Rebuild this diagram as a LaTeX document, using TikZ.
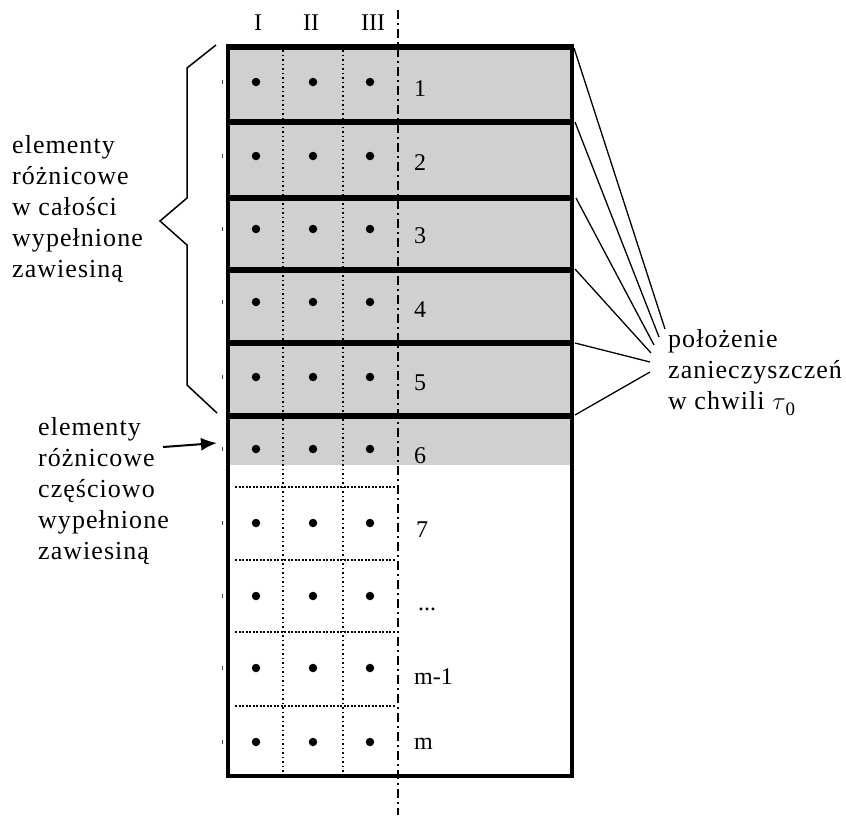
\documentclass[tikz,border=0pt]{standalone}
\usepackage{fontspec}
\setmainfont{Liberation Serif}
\newfontfamily\wideserif[LetterSpace=4]{Liberation Serif}
\usetikzlibrary{arrows.meta}
\definecolor{fillgray}{RGB}{208,208,208}
\begin{document}
\begin{tikzpicture}[x=1pt,y=-1pt,
  blocksep/.style={line width=6pt},
  outerbox/.style={line width=4pt},
  colline/.style={line width=1.5pt,dash pattern=on 1.5pt off 3pt},
  rowline/.style={line width=1.3pt,dash pattern=on 2pt off 1.5pt},
  axisline/.style={line width=1.8pt,dash pattern=on 9pt off 4pt on 2pt off 4pt},
  dotmark/.style={circle,fill=black,inner sep=0pt,minimum size=8.5pt},
  rowlabel/.style={anchor=base west,inner sep=0pt,font=\fontsize{24}{28}\selectfont},
  collabel/.style={anchor=base,inner sep=0pt,font=\fontsize{24}{28}\selectfont},
  sidetext/.style={anchor=north west,inner sep=0pt,align=left,font=\wideserif\fontsize{26}{31}\selectfont},
  leader/.style={line width=1.3pt},
  bracket/.style={line width=1.5pt}]
\useasboundingbox (0,0) rectangle (846,815);

% gray filled blocks
\fill[fillgray] (228,47) rectangle (572,465);

% column dotted lines
\draw[colline] (283,50) -- (283,772);
\draw[colline] (343,50) -- (343,772);

% row dotted lines in the lower part
\foreach \yy in {487,560,632,706} {
  \draw[rowline] (235,\yy) -- (396,\yy);
}

% dash-dot axis
\draw[axisline] (398,10) -- (398,815);

% outer box and block separators
\draw[outerbox] (228,47) rectangle (572,776);
\foreach \yy in {47,122,198,270,343,416} {
  \draw[blocksep] (226,\yy) -- (574,\yy);
}

% dots and left ticks
\foreach \yy [count=\r] in {82,156,229,302,377,449,523,596,668,742} {
  \foreach \xx [count=\c] in {256,313,370} {
    \node[dotmark] (d\r\c) at (\xx,\yy) {};
  }
  \draw[line width=1pt,black!70] (222,\yy-2) -- (222,\yy+2);
}

% column labels
\node[collabel] (cI) at (258,30) {I};
\node[collabel] (cII) at (311,30) {II};
\node[collabel] (cIII) at (373,30) {III};

% row labels
\node[rowlabel] (r1) at (414,96) {1};
\node[rowlabel] (r2) at (414,170) {2};
\node[rowlabel] (r3) at (414,243) {3};
\node[rowlabel] (r4) at (414,317) {4};
\node[rowlabel] (r5) at (414,390) {5};
\node[rowlabel] (r6) at (414,463) {6};
\node[rowlabel] (r7) at (416,537) {7};
\node[rowlabel] (r8) at (418,610) {...};
\node[rowlabel] (r9) at (414,684) {m-1};
\node[rowlabel] (r10) at (414,749) {m};

% side texts
\node[sidetext] (full) at (12,135) {elementy\\różnicowe\\w całości\\wypełnione\\zawiesiną};
\node[sidetext] (part) at (38,417) {elementy\\różnicowe\\częściowo\\wypełnione\\zawiesiną};
\node[sidetext] (pos) at (668,329) {położenie\\zanieczyszczeń\\w chwili $\tau$\raisebox{-6pt}{\normalfont\fontsize{19}{20}\selectfont 0}};

% bracket
\draw[bracket] (216,45) -- (187,68) -- (187,198) -- (160,221) -- (187,245) -- (187,385) -- (217,413);

% arrow to block 6
\coordinate (arrS) at (163,447);
\coordinate (arrE) at (217,443);
\draw[line width=2pt,-{Latex[length=16pt,width=13pt]}] (arrS) -- (arrE);

% leaders from blocks to the label
\coordinate (b1) at (574,48);
\coordinate (b2) at (575,122);
\coordinate (b3) at (576,198);
\coordinate (b4) at (575,269);
\coordinate (b5) at (575,343);
\coordinate (b6) at (575,415);
\coordinate (e1) at (665,329);
\coordinate (e2) at (659,337);
\coordinate (e3) at (654,345);
\coordinate (e4) at (651,353);
\coordinate (e5) at (650,362);
\coordinate (e6) at (650,372);
\foreach \i in {1,...,6} {
  \draw[leader] (b\i) -- (e\i);
}
\end{tikzpicture}
\end{document}
